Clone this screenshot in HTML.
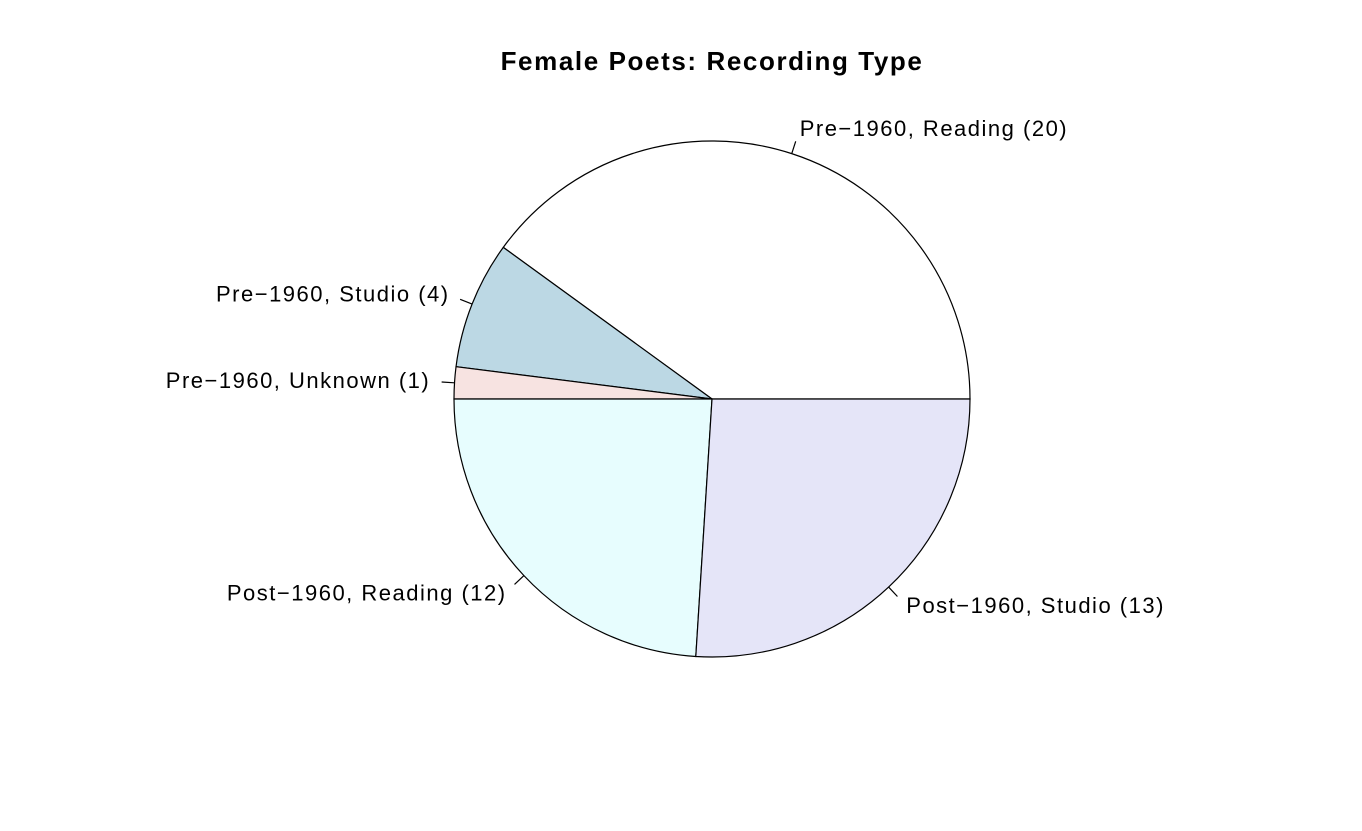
<!DOCTYPE html>
<html><head><meta charset="utf-8"><style>
body{margin:0;background:#fff}
svg{display:block;font-family:"Liberation Sans",Arial,sans-serif}
</style></head><body>
<svg id="chart" width="1362" height="831">
<rect width="1362" height="831" fill="#fff"/>
<text x="712" y="70" text-anchor="middle" font-size="26" font-weight="bold" letter-spacing="1.6">Female Poets: Recording Type</text>
<g id="slices"></g>
</svg>
<script>
const categories = ["Pre\u22121960, Reading", "Pre\u22121960, Studio", "Pre\u22121960, Unknown", "Post\u22121960, Reading", "Post\u22121960, Studio"];
const counts = [20, 4, 1, 12, 13];
const colors = ["#ffffff", "#bcd8e4", "#f7e3e1", "#e7fdfe", "#e5e5f8"];

const cx = 712, cy = 399, r = 258;
const g = document.getElementById('slices');
const ns = "http://www.w3.org/2000/svg";
const total = counts.reduce((a, b) => a + b, 0);
function pt(a, rr) { return [cx + rr * Math.cos(a), cy - rr * Math.sin(a)]; }
let acc = 0;
counts.forEach((v, i) => {
  const a0 = acc / total * 2 * Math.PI;
  acc += v;
  const a1 = acc / total * 2 * Math.PI;
  const p0 = pt(a0, r), p1 = pt(a1, r);
  const large = (a1 - a0) > Math.PI ? 1 : 0;
  const path = document.createElementNS(ns, 'path');
  path.setAttribute('d', `M${cx},${cy} L${p0[0]},${p0[1]} A${r},${r} 0 ${large} 0 ${p1[0]},${p1[1]} Z`);
  path.setAttribute('fill', colors[i]);
  path.setAttribute('stroke', '#000');
  path.setAttribute('stroke-width', '1.2');
  
  
  g.appendChild(path);
  const am = (a0 + a1) / 2;
  const t0 = pt(am, r), t1 = pt(am, r * 1.05), lp = pt(am, r * 1.1);
  const tick = document.createElementNS(ns, 'line');
  tick.setAttribute('x1', t0[0]); tick.setAttribute('y1', t0[1]);
  tick.setAttribute('x2', t1[0]); tick.setAttribute('y2', t1[1]);
  tick.setAttribute('stroke', '#000');
  tick.setAttribute('stroke-width', '1.2');
  
  
  g.appendChild(tick);
  const txt = document.createElementNS(ns, 'text');
  const right = Math.cos(am) >= 0;
  txt.setAttribute('x', right ? lp[0] : lp[0] + 1.5);
  txt.setAttribute('y', lp[1] + 7);
  txt.setAttribute('font-size', '22');
  txt.setAttribute('letter-spacing', '1.5');
  txt.setAttribute('text-anchor', right ? 'start' : 'end');
  txt.textContent = categories[i] + ' (' + v + ')';
  
  
  g.appendChild(txt);
});
</script>
</body></html>
